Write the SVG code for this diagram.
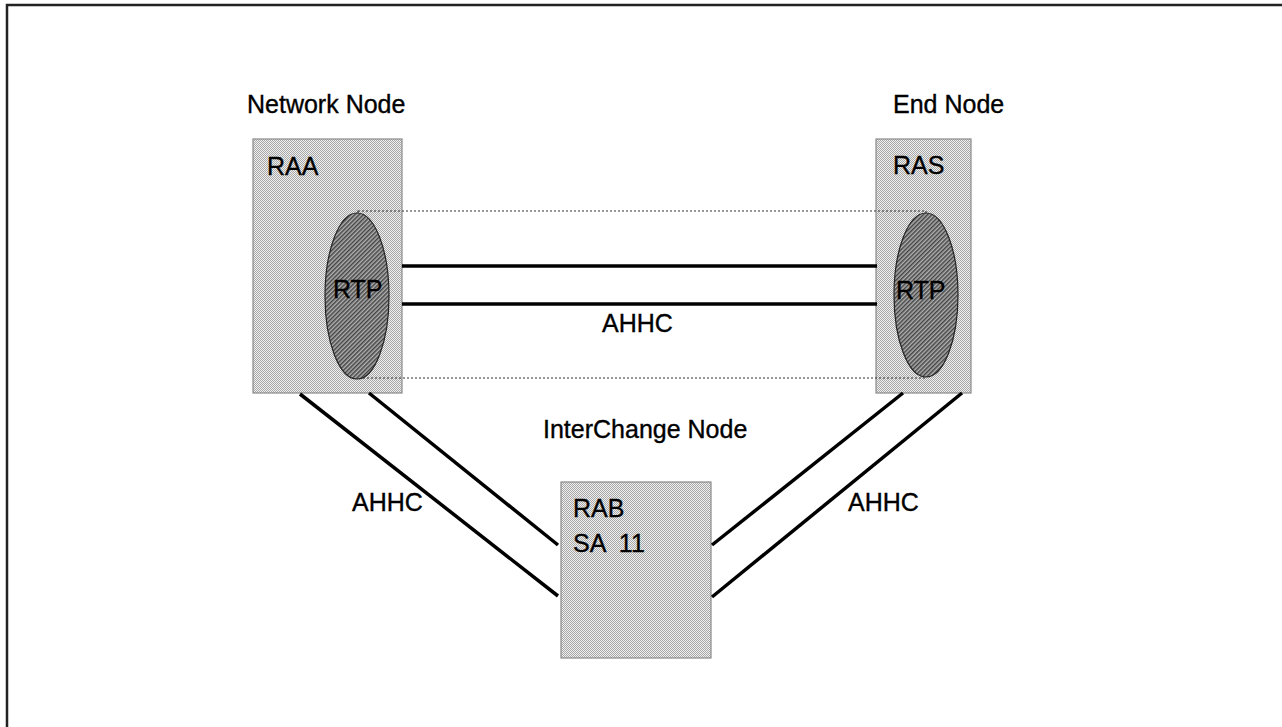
<svg xmlns="http://www.w3.org/2000/svg" width="1282" height="727" viewBox="0 0 1282 727">
<style>
text{font-family:"Liberation Sans",Arial,sans-serif;font-size:25px;fill:#000;stroke:#000;stroke-width:0.35}
.box{fill:url(#dots);stroke:#8a8a8a;stroke-width:1.2}
.oval{fill:url(#hatch);stroke:#222;stroke-width:1.2}
.thick{stroke:#000;stroke-width:3.5;fill:none}
.dotted{stroke:#333;stroke-width:1.1;stroke-dasharray:2 2;fill:none}
</style>
<defs>
<pattern id="dots" width="2" height="2" patternUnits="userSpaceOnUse">
<rect width="2" height="2" fill="#efefef"/>
<rect width="1" height="1" fill="#a8a8a8"/>
<rect x="1" y="1" width="1" height="1" fill="#a8a8a8"/>
</pattern>
<pattern id="hatch" width="3" height="3" patternUnits="userSpaceOnUse" patternTransform="rotate(45)">
<rect width="3" height="3" fill="#b0b0b0"/>
<rect width="1.5" height="3" fill="#444"/>
</pattern>
</defs>
<rect width="1282" height="727" fill="#fff"/>
<path d="M7,727 V5 H1282" fill="none" stroke="#222" stroke-width="2.5"/>

<g id="network-node">
<text x="247" y="113">Network Node</text>
<rect class="box" x="253" y="139" width="149" height="254"/>
<text x="267" y="175">RAA</text>
</g>
<g id="end-node">
<text x="893" y="113">End Node</text>
<rect class="box" x="876" y="139" width="95" height="254"/>
<text x="893" y="174">RAS</text>
</g>
<g id="interchange-node">
<text x="543" y="438">InterChange Node</text>
<rect class="box" x="561" y="482" width="150" height="176"/>
<text x="573" y="517">RAB</text>
<text x="573" y="552" xml:space="preserve">SA  11</text>
</g>

<g id="connectors">
<rect class="dotted" x="358" y="211" width="568" height="167"/>
<line class="thick" x1="402" y1="266" x2="877" y2="266"/>
<line class="thick" x1="402" y1="304" x2="877" y2="304"/>
<line class="thick" x1="300" y1="394" x2="558" y2="596"/>
<line class="thick" x1="369" y1="393" x2="558" y2="545"/>
<line class="thick" x1="903" y1="393" x2="712" y2="545"/>
<line class="thick" x1="962" y1="393" x2="712" y2="597"/>
<text x="602" y="332">AHHC</text>
<text x="352" y="511">AHHC</text>
<text x="848" y="511">AHHC</text>
</g>

<g id="rtp-left">
<ellipse class="oval" cx="357" cy="296" rx="32" ry="83"/>
<text x="333" y="298">RTP</text>
</g>
<g id="rtp-right">
<ellipse class="oval" cx="926" cy="295" rx="32" ry="82"/>
<text x="896" y="299">RTP</text>
</g>
</svg>
